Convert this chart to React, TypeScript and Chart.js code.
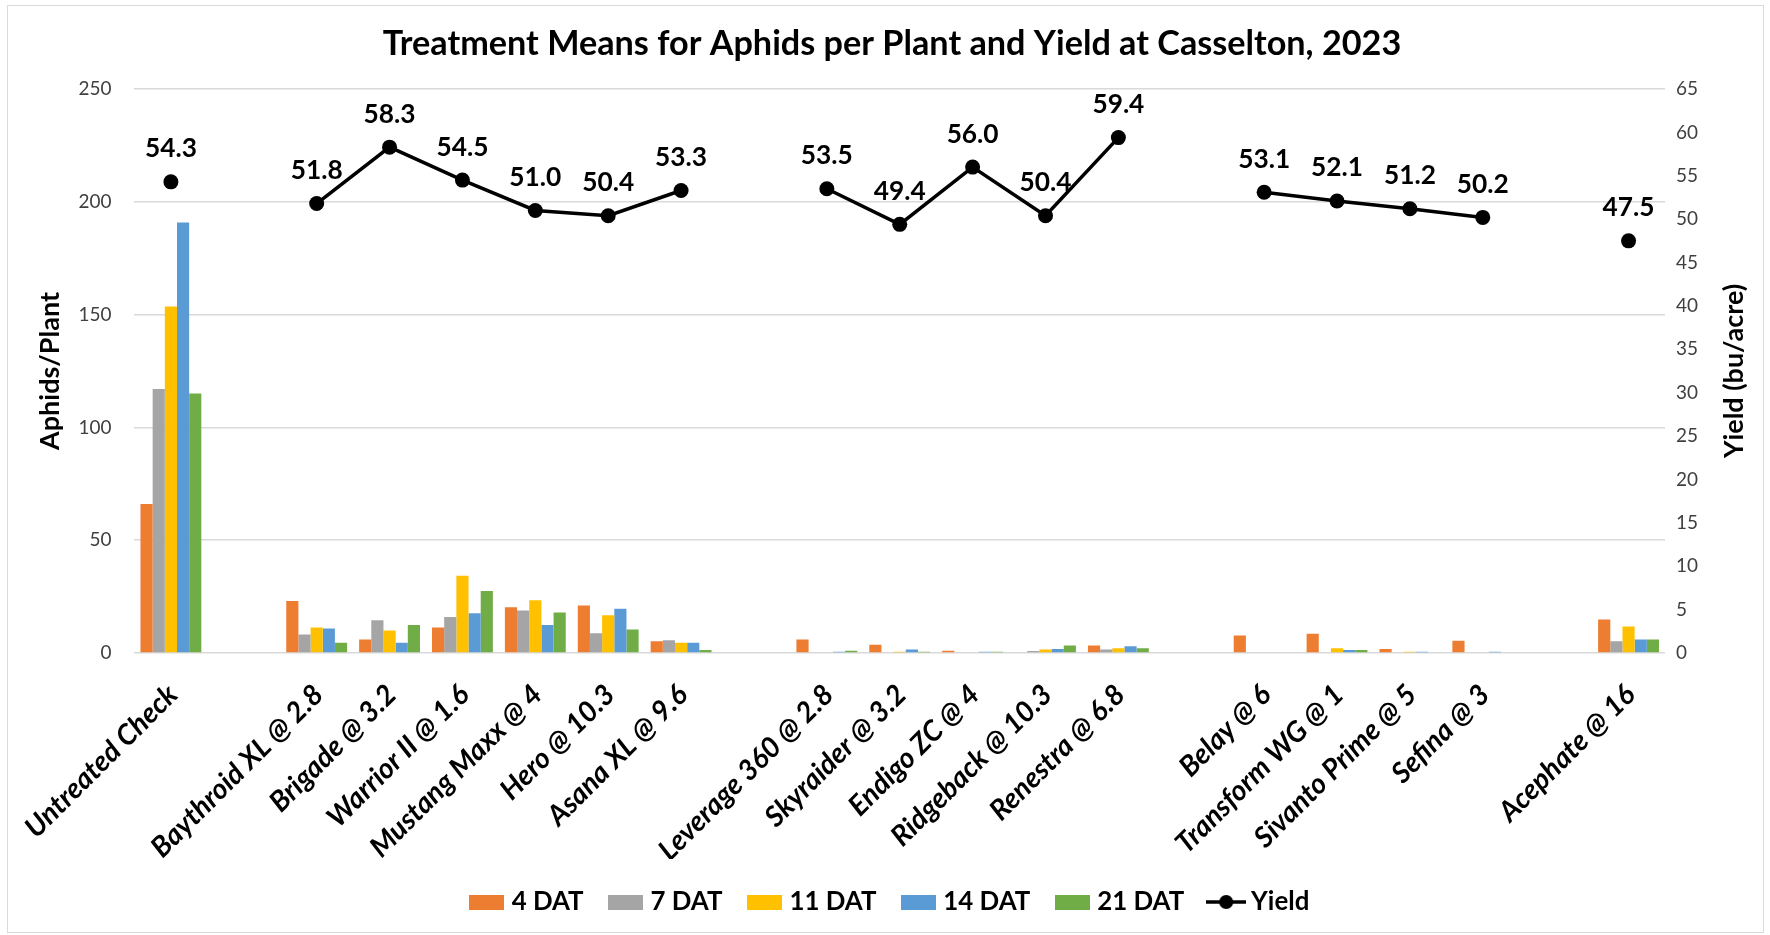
import React, { useEffect, useRef } from "react";
import { Chart, registerables } from "chart.js";

Chart.register(...registerables);

const chartTitle = "Treatment Means for Aphids per Plant and Yield at Casselton, 2023";
const leftAxisTitle = "Aphids/Plant";
const rightAxisTitle = "Yield (bu/acre)";

const categories = [
  "Untreated Check", "",
  "Baythroid XL @ 2.8", "Brigade @ 3.2", "Warrior II @ 1.6", "Mustang Maxx @ 4", "Hero @ 10.3", "Asana XL @ 9.6", "",
  "Leverage 360 @ 2.8", "Skyraider @ 3.2", "Endigo ZC @ 4", "Ridgeback @ 10.3", "Renestra @ 6.8", "",
  "Belay @ 6", "Transform WG @ 1", "Sivanto Prime @ 5", "Sefina @ 3", "",
  "Acephate @ 16",
];

const seriesNames = ["4 DAT", "7 DAT", "11 DAT", "14 DAT", "21 DAT"];
const dat4 = [66.0, null, 23.1, 6.0, 11.3, 20.3, 21.0, 5.2, null, 6.0, 3.7, 1.0, 0, 3.3, null, 7.8, 8.5, 1.8, 5.4, null, 14.9];
const dat7 = [117.0, null, 8.2, 14.5, 16.0, 18.8, 8.8, 5.7, null, 0, 0, 0, 0.9, 1.6, null, 0, 0, 0, 0, null, 5.2];
const dat11 = [153.6, null, 11.3, 10.0, 34.2, 23.4, 16.7, 4.5, null, 0, 0.6, 0, 1.6, 2.1, null, 0, 2.1, 0.6, 0, null, 11.8];
const dat14 = [190.8, null, 10.9, 4.5, 17.6, 12.4, 19.6, 4.5, null, 0.6, 1.5, 0.6, 1.8, 3.0, null, 0, 1.3, 0.6, 0.6, null, 6.0];
const dat21 = [115.0, null, 4.5, 12.4, 27.5, 17.9, 10.4, 1.3, null, 1.0, 0.6, 0.6, 3.3, 2.1, null, 0, 1.3, 0, 0, null, 6.0];

const yieldLabel = "Yield";
const yieldValues = [54.3, null, 51.8, 58.3, 54.5, 51.0, 50.4, 53.3, null, 53.5, 49.4, 56.0, 50.4, 59.4, null, 53.1, 52.1, 51.2, 50.2, null, 47.5];

const aphidAxis = { min: 0, max: 250, step: 50 };
const yieldAxis = { min: 0, max: 65, step: 5 };

const barColors = ["#ED7D31", "#A5A5A5", "#FFC000", "#5B9BD5", "#70AD47"];

export default function App() {
  const canvasRef = useRef<HTMLCanvasElement>(null);

  useEffect(() => {
    const canvas = canvasRef.current;
    if (!canvas) return;
    const W = 1770, H = 935;
    const L = 130, R = 1665, T = 89, B = 653;
    const PAD_LEFT = 14;
    const FAM = "Lato, 'Open Sans', sans-serif";
    const m = document.createElement("canvas").getContext("2d")!;
    const fit = (text: string, style: string, target: number) => {
      m.font = `${style} 100px ${FAM}`;
      return (100 * target) / m.measureText(text).width;
    };
    const titleSize = fit(chartTitle, "bold", 1019);
    const mainSize = fit("4 DAT", "bold", 72);
    const tickSize = fit("250", "normal", 33);
    const catSize = fit("Untreated Check", "italic bold", 202);
    const axisTitleSize = fit(leftAxisTitle, "bold", 158);
    const labelSize = fit("54.3", "bold", 52);

    const titleLH = titleSize * 1.2;
    const titlePadTop = 43.5 - titleLH / 2;
    const titlePadBottom = T - titlePadTop - titleLH;

    const legPad = 30;
    const padBottom = H - 902 - 10 - mainSize / 2;
    const legendHeight = mainSize + legPad + 10;
    const xHeight = H - padBottom - legendHeight - B;

    const axisLH = axisTitleSize * 1.2;

    const mkBox = (color: string) => {
      const c = document.createElement("canvas");
      c.width = 35; c.height = 15;
      const x = c.getContext("2d")!;
      x.fillStyle = color;
      x.fillRect(0, 0, 35, 15);
      return c;
    };
    const mkLine = () => {
      const c = document.createElement("canvas");
      c.width = 40; c.height = 16;
      const x = c.getContext("2d")!;
      x.strokeStyle = "#000";
      x.lineWidth = 3.5;
      x.beginPath(); x.moveTo(0, 8); x.lineTo(40, 8); x.stroke();
      x.fillStyle = "#000";
      x.beginPath(); x.arc(20, 8, 7, 0, Math.PI * 2); x.fill();
      return c;
    };
    const icons: any[] = [...barColors.map(mkBox), mkLine()];

    const dataLabels = {
      id: "yieldLabels",
      afterDatasetsDraw(chart: any) {
        const ctx = chart.ctx;
        const meta = chart.getDatasetMeta(5);
        ctx.save();
        ctx.font = `bold ${labelSize}px ${FAM}`;
        ctx.fillStyle = "#000";
        ctx.textAlign = "center";
        ctx.textBaseline = "middle";
        meta.data.forEach((pt: any, i: number) => {
          const v = yieldValues[i];
          if (v === null || v === undefined) return;
          ctx.fillText(v.toFixed(1), pt.x, pt.y - 33);
        });
        ctx.restore();
      },
    };

    const rightTitle = {
      id: "rightTitle",
      afterDraw(chart: any) {
        const ctx = chart.ctx;
        ctx.save();
        ctx.translate(1734, (T + B) / 2);
        ctx.rotate(-Math.PI / 2);
        ctx.font = `bold ${axisTitleSize}px ${FAM}`;
        ctx.fillStyle = "#000";
        ctx.textAlign = "center";
        ctx.textBaseline = "middle";
        ctx.fillText(rightAxisTitle, 0, 0);
        ctx.restore();
      },
    };

    const barSets = [dat4, dat7, dat11, dat14, dat21].map((d, i) => ({
      type: "bar" as const,
      label: seriesNames[i],
      data: d,
      backgroundColor: barColors[i],
      borderWidth: 0,
      yAxisID: "y",
      categoryPercentage: 0.835,
      barPercentage: 1.0,
      order: 1,
    }));

    const chart = new Chart(canvas, {
      type: "bar",
      data: {
        labels: categories,
        datasets: [
          ...barSets,
          {
            type: "line" as const,
            label: yieldLabel,
            data: yieldValues,
            yAxisID: "y1",
            borderColor: "#000",
            backgroundColor: "#000",
            borderWidth: 3.5,
            pointRadius: 7.5,
            pointBorderWidth: 0,
            pointBackgroundColor: "#000",
            spanGaps: false,
            tension: 0,
            order: -1,
          } as any,
        ],
      },
      options: {
        responsive: false,
        animation: false,
        events: [],
        layout: { padding: { top: 0, left: PAD_LEFT, right: 0, bottom: padBottom } },
        plugins: {
          tooltip: { enabled: false },
          title: {
            display: true,
            text: chartTitle,
            color: "#000",
            font: { family: FAM, size: titleSize, weight: "bold", lineHeight: 1.2 },
            padding: { top: titlePadTop, bottom: titlePadBottom },
          },
          legend: {
            display: true,
            position: "bottom",
            labels: {
              usePointStyle: true,
              pointStyleWidth: 24,
              padding: legPad,
              color: "#000",
              font: { family: FAM, size: mainSize, weight: "bold" },
              sort: (a: any, b: any) => a.datasetIndex - b.datasetIndex,
              generateLabels: (c: any) => {
                const items = (Chart.defaults.plugins.legend.labels as any).generateLabels(c);
                return items.map((it: any) => ({
                  ...it,
                  pointStyle: icons[it.datasetIndex],
                  fontColor: "#000",
                  lineWidth: 0,
                }));
              },
            },
          },
        },
        scales: {
          x: {
            type: "category",
            offset: true,
            grid: { display: false, drawTicks: false },
            border: { display: false },
            ticks: {
              autoSkip: false,
              maxRotation: 45,
              minRotation: 45,
              padding: 25,
              labelOffset: 2,
              color: "#000",
              font: { family: FAM, size: catSize, weight: "bold", style: "italic" },
            },
            afterFit: (s: any) => { s.height = xHeight; },
          },
          y: {
            type: "linear",
            position: "left",
            min: aphidAxis.min,
            max: aphidAxis.max,
            grid: { color: "#d9d9d9", lineWidth: 1.5, drawTicks: false },
            border: { display: false },
            ticks: {
              stepSize: aphidAxis.step,
              padding: 23,
              color: "#404040",
              font: { family: FAM, size: tickSize },
            },
            title: {
              display: true,
              text: leftAxisTitle,
              color: "#000",
              font: { family: FAM, size: axisTitleSize, weight: "bold", lineHeight: 1.2 },
              padding: { top: 46 - PAD_LEFT - axisLH / 2, bottom: 0 },
            },
            afterFit: (s: any) => { s.width = L - PAD_LEFT; },
          },
          y1: {
            type: "linear",
            position: "right",
            min: yieldAxis.min,
            max: yieldAxis.max,
            grid: { display: false, drawTicks: false },
            border: { display: false },
            ticks: {
              stepSize: yieldAxis.step,
              padding: 11,
              color: "#404040",
              font: { family: FAM, size: tickSize },
            },
            afterFit: (s: any) => { s.width = W - R; },
          },
        },
      },
      plugins: [dataLabels, rightTitle],
    } as any);

    return () => chart.destroy();
  }, []);

  return (
    <div style={{ position: "absolute", left: 0, top: 0, width: 1770, height: 935, background: "#fff" }}>
      <canvas ref={canvasRef} width={1770} height={935} style={{ width: 1770, height: 935, display: "block" }} />
      <div
        style={{
          position: "absolute",
          left: 7,
          top: 5,
          width: 1757,
          height: 928,
          boxSizing: "border-box",
          border: "1px solid #d9d9d9",
          pointerEvents: "none",
        }}
      />
    </div>
  );
}
